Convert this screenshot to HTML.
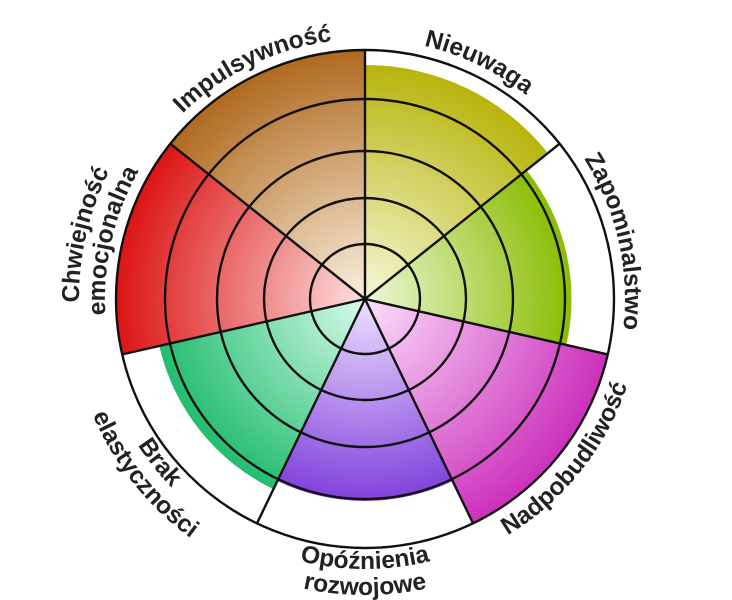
<!DOCTYPE html>
<html><head><meta charset="utf-8"><style>
html,body{margin:0;padding:0;background:#fff;width:732px;height:600px;overflow:hidden}
text{font-family:"Liberation Sans",sans-serif;font-weight:bold;font-size:24.5px;fill:#222}
</style></head><body>
<svg width="732" height="600" viewBox="0 0 732 600" xmlns="http://www.w3.org/2000/svg">
<defs>
<radialGradient id="gI" gradientUnits="userSpaceOnUse" cx="0" cy="0" r="249"><stop offset="0" stop-color="#fbf0e0"/><stop offset="1" stop-color="#b06a20"/></radialGradient>
<radialGradient id="gN" gradientUnits="userSpaceOnUse" cx="0" cy="0" r="249"><stop offset="0" stop-color="#f6f8d8"/><stop offset="1" stop-color="#b4b000"/></radialGradient>
<radialGradient id="gZ" gradientUnits="userSpaceOnUse" cx="0" cy="0" r="210"><stop offset="0" stop-color="#eef8d8"/><stop offset="1" stop-color="#88bc00"/></radialGradient>
<radialGradient id="gP" gradientUnits="userSpaceOnUse" cx="0" cy="0" r="249"><stop offset="0" stop-color="#fbe0fb"/><stop offset="1" stop-color="#cc30bc"/></radialGradient>
<radialGradient id="gO" gradientUnits="userSpaceOnUse" cx="0" cy="0" r="205"><stop offset="0" stop-color="#efe0ff"/><stop offset="1" stop-color="#8040dc"/></radialGradient>
<radialGradient id="gB" gradientUnits="userSpaceOnUse" cx="0" cy="0" r="215"><stop offset="0" stop-color="#d8fbec"/><stop offset="1" stop-color="#20bc6c"/></radialGradient>
<radialGradient id="gC" gradientUnits="userSpaceOnUse" cx="0" cy="0" r="249"><stop offset="0" stop-color="#fde0e0"/><stop offset="1" stop-color="#dc1414"/></radialGradient>
<path id="cw260" d="M365,39 A260,260 0 1 1 365,559 A260,260 0 1 1 365,39"/>
<path id="cw286" d="M365,13 A286,286 0 1 1 365,585 A286,286 0 1 1 365,13"/>
<path id="ccw276" d="M365,23 A276,276 0 1 0 365,575 A276,276 0 1 0 365,23"/>
<path id="ccw270" d="M365,29 A270,270 0 1 0 365,569 A270,270 0 1 0 365,29"/>
<path id="ccw296" d="M365,3 A296,296 0 1 0 365,595 A296,296 0 1 0 365,3"/>
</defs>
<g transform="translate(365,299)">
<path d="M0,0 L-194.7,-155.3 A249,249 0 0 1 0,-249 Z" fill="url(#gI)"/>
<path d="M0,0 L0,-234 A234,234 0 0 1 182.9,-145.9 Z" fill="url(#gN)"/>
<path d="M0,0 L161.5,-128.8 A206.5,206.5 0 0 1 201.3,46 Z" fill="url(#gZ)"/>
<path d="M0,0 L242.8,55.4 A249,249 0 0 1 108,224.3 Z" fill="url(#gP)"/>
<path d="M0,0 L87.6,182 A202,202 0 0 1 -87.6,182 Z" fill="url(#gO)"/>
<path d="M0,0 L-91.6,190.1 A211,211 0 0 1 -205.7,46.9 Z" fill="url(#gB)"/>
<path d="M0,0 L-242.8,55.4 A249,249 0 0 1 -194.7,-155.3 Z" fill="url(#gC)"/>
<g fill="none" stroke="#111" stroke-width="2.4">
<circle r="55"/><circle r="101"/><circle r="148"/><circle r="200"/><circle r="249"/>
<path d="M0,0 L0,-249 M0,0 L194.7,-155.3 M0,0 L242.8,55.4 M0,0 L108,224.3 M0,0 L-108,224.3 M0,0 L-242.8,55.4 M0,0 L-194.7,-155.3"/>
</g>
</g>
<text text-anchor="middle"><textPath href="#cw260" startOffset="92.8%">Impulsywność</textPath></text>
<text text-anchor="middle"><textPath href="#cw260" startOffset="7.14%">Nieuwaga</textPath></text>
<text text-anchor="middle"><textPath href="#cw260" startOffset="21.4%">Zapominalstwo</textPath></text>
<text text-anchor="middle"><textPath href="#cw286" startOffset="78.6%">Chwiejność</textPath></text>
<text text-anchor="middle"><textPath href="#cw260" startOffset="78.6%">emocjonalna</textPath></text>
<text text-anchor="middle"><textPath href="#ccw276" startOffset="64.3%">Nadpobudliwość</textPath></text>
<text text-anchor="middle"><textPath href="#ccw270" startOffset="50%">Opóźnienia</textPath></text>
<text text-anchor="middle"><textPath href="#ccw296" startOffset="50%">rozwojowe</textPath></text>
<text text-anchor="middle"><textPath href="#ccw270" startOffset="35.7%">Brak</textPath></text>
<text text-anchor="middle"><textPath href="#ccw296" startOffset="35.7%">elastyczności</textPath></text>
</svg>
</body></html>
